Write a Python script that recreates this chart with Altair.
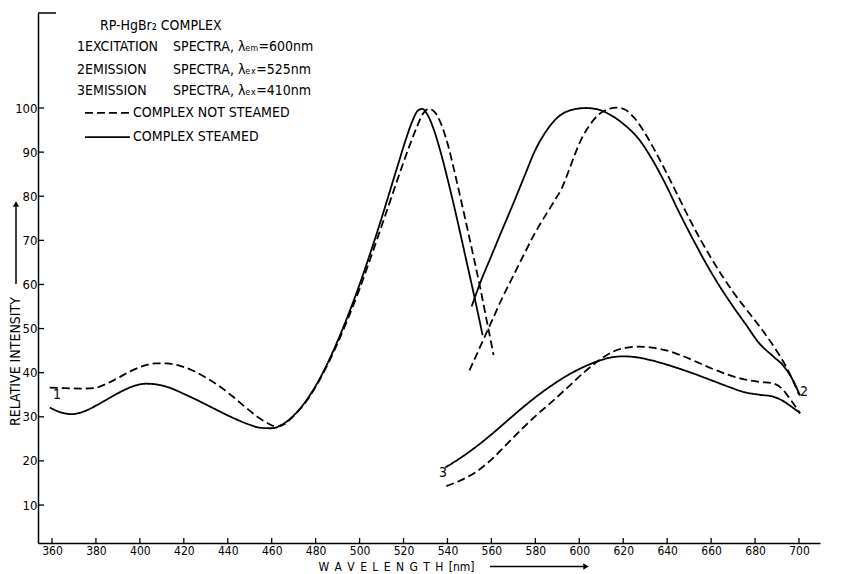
import altair as alt
import pandas as pd

# ---------------- data ----------------
x_ticks = [360, 380, 400, 420, 440, 460, 480, 500, 520, 540, 560, 580, 600, 620, 640, 660, 680, 700]
y_ticks = [10, 20, 30, 40, 50, 60, 70, 80, 90, 100]

# curve 1: excitation spectra, complex steamed (solid)
exc_s_nm = [359, 364, 369, 375, 381, 387, 393, 398, 403, 408, 414, 420, 426, 432, 438, 444, 450, 455, 460,
            465, 470, 475, 480, 485, 490, 495, 500, 505, 510, 514, 518, 521, 524, 526.5, 528.5, 531, 534,
            537, 540, 543, 546, 549, 552, 556]
exc_s_val = [32.1, 31.0, 30.6, 31.3, 32.8, 34.5, 36.1, 37.1, 37.5, 37.3, 36.5, 35.2, 33.8, 32.3, 30.8, 29.4,
             28.2, 27.5, 27.4, 28.3, 30.3, 33.2, 37.0, 41.7, 47.2, 53.3, 60.0, 67.3, 75.0, 81.5, 88.0, 92.8,
             97.0, 99.4, 99.8, 98.4, 94.8, 89.8, 84.0, 77.8, 71.2, 64.5, 57.8, 48.5]
# curve 1: excitation spectra, complex not steamed (dashed)
exc_d_nm = [359, 366, 373, 379, 384, 390, 396, 402, 407, 412, 418, 424, 430, 436, 442, 448, 453, 458, 462,
            466, 470, 475, 480, 485, 490, 495, 500, 505, 510, 515, 519, 523, 526, 529, 531.5, 534, 537, 540,
            543, 546, 549, 552, 555, 558, 561]
exc_d_val = [36.6, 36.5, 36.4, 36.5, 37.3, 38.8, 40.4, 41.6, 42.1, 42.1, 41.6, 40.5, 38.9, 37.0, 34.7, 32.2,
             30.2, 28.6, 27.8, 28.4, 30.2, 33.0, 36.8, 41.4, 46.7, 52.6, 59.0, 66.0, 73.2, 80.5, 86.3, 91.8,
             95.6, 98.8, 99.8, 99.2, 96.5, 92.0, 86.0, 79.5, 72.8, 66.0, 59.0, 51.5, 44.0]

# curve 2: emission spectra (lambda ex = 525 nm)
em2_s_nm = [551, 555, 560, 565, 570, 575, 580, 585, 590, 596, 603, 609, 615, 621, 627, 633, 639, 645, 652,
            658, 664, 670, 676, 682, 688, 693, 697, 700.5]
em2_s_val = [55.0, 60.5, 66.5, 72.5, 78.4, 84.5, 90.5, 94.8, 97.8, 99.5, 100.0, 99.6, 98.2, 96.0, 93.0, 88.5,
             83.0, 76.8, 70.0, 64.5, 59.5, 55.0, 50.8, 46.6, 43.8, 41.5, 38.5, 34.8]
em2_d_nm = [550, 555, 560, 565, 570, 575, 580, 585, 589, 592, 595, 598, 601, 605, 609, 613, 617, 621, 625,
            630, 635, 640, 645, 650, 655, 660, 665, 670, 675, 680, 685, 690, 694, 697, 700]
em2_d_val = [40.5, 46.0, 51.5, 57.0, 62.0, 67.0, 71.8, 76.0, 79.2, 81.8, 85.5, 89.5, 93.0, 96.3, 98.6, 99.7,
             100.1, 99.6, 97.8, 94.2, 89.8, 85.0, 80.0, 75.0, 70.3, 66.0, 62.0, 58.3, 55.0, 51.8, 48.5, 44.8,
             41.5, 38.5, 35.0]

# curve 3: emission spectra (lambda ex = 410 nm)
em3_s_nm = [539, 546, 553, 560, 567, 574, 581, 588, 595, 602, 609, 615, 620, 626, 632, 638, 645, 652, 660,
            668, 675, 682, 688, 692, 696, 700.5]
em3_s_val = [18.5, 20.7, 23.2, 26.0, 29.0, 32.0, 34.8, 37.3, 39.5, 41.3, 42.7, 43.5, 43.7, 43.5, 42.9, 42.1,
             41.0, 39.8, 38.3, 36.8, 35.6, 35.0, 34.6, 33.8, 32.5, 30.8]
em3_d_nm = [539.5, 546, 553, 560, 567, 574, 581, 588, 595, 602, 609, 615, 621, 627, 633, 640, 647, 654, 661,
            668, 675, 682, 688, 692, 696, 700.5]
em3_d_val = [14.3, 15.6, 17.5, 20.3, 23.8, 27.3, 30.6, 33.6, 36.8, 40.0, 42.8, 44.7, 45.6, 45.9, 45.7, 45.0,
             43.8, 42.3, 40.8, 39.5, 38.5, 37.9, 37.6, 36.5, 34.0, 30.8]

# annotation block (two columns so that "SPECTRA" lines up as in the original)
ann_text = ["RP-HgBr\u2082 COMPLEX",
            "1EXCITATION", "SPECTRA, \u03bb\u2091\u2098=600nm",
            "2EMISSION", "SPECTRA, \u03bb\u2091\u2093=525nm",
            "3EMISSION", "SPECTRA, \u03bb\u2091\u2093=410nm",
            "COMPLEX NOT STEAMED",
            "COMPLEX STEAMED"]
ann_nm = [381.8, 371.4, 415.1, 371.4, 415.1, 371.4, 415.1, 396.9, 396.9]
ann_val = [118.6, 113.8, 113.8, 108.6, 108.6, 103.9, 103.9, 98.9, 93.4]

key_style = ["dashed", "solid"]
key_nm = [375.0, 375.0]
key_nm2 = [395.5, 395.5]
key_val = [98.9, 93.4]

curve_label = ["1", "2", "3"]
curve_label_nm = [362.3, 702.3, 538.0]
curve_label_val = [34.9, 35.6, 17.3]

# ---------------- build ----------------
def frame(nm, val, curve, style):
    return pd.DataFrame({"nm": nm, "val": val, "curve": curve, "style": style})

df = pd.concat([
    frame(exc_s_nm, exc_s_val, "1s", "solid"),
    frame(exc_d_nm, exc_d_val, "1d", "dashed"),
    frame(em2_s_nm, em2_s_val, "2s", "solid"),
    frame(em2_d_nm, em2_d_val, "2d", "dashed"),
    frame(em3_s_nm, em3_s_val, "3s", "solid"),
    frame(em3_d_nm, em3_d_val, "3d", "dashed"),
], ignore_index=True)

W, H = 782, 530
FONT = "DejaVu Sans Condensed"
xs = alt.Scale(domain=[353.63, 709.56], nice=False, zero=False)
ys = alt.Scale(domain=[1.39, 121.54], nice=False, zero=False)
dash_scale = alt.Scale(domain=["solid", "dashed"], range=[[1, 0], [8, 4]])

x_axis = alt.Axis(values=x_ticks, ticks=False, grid=False, format="d", labelFont=FONT, labelFontSize=12,
                  labelColor="black", labelPadding=2, domainColor="black", domainWidth=1.5,
                  title="W\u2002A\u2002V\u2002E\u2002L\u2002E\u2002N\u2002G\u2002T\u2002H\u2002[nm]",
                  titleFont=FONT, titleFontSize=12, titleFontWeight="normal", titleColor="black",
                  titleX=358, titleY=23.5, titleAlign="center", titleBaseline="middle")
y_axis = alt.Axis(values=y_ticks, ticks=False, grid=False, format="d", labelFont=FONT, labelFontSize=13,
                  labelColor="black", labelPadding=1, domainColor="black", domainWidth=1.5,
                  title="RELATIVE INTENSITY", titleFont=FONT, titleFontSize=14, titleFontWeight="normal",
                  titleColor="black", titleAngle=270, titleX=-23, titleY=348, titleAlign="center",
                  titleBaseline="middle")

lines = alt.Chart(df).mark_line(interpolate="monotone", color="black", strokeWidth=1.8).encode(
    x=alt.X("nm:Q", scale=xs, axis=x_axis),
    y=alt.Y("val:Q", scale=ys, axis=y_axis),
    detail="curve:N",
    strokeDash=alt.StrokeDash("style:N", scale=dash_scale, legend=None),
)

xt = alt.Chart(pd.DataFrame({"t": x_ticks})).mark_rule(color="black", strokeWidth=1.3).encode(
    x=alt.X("t:Q", scale=xs), y=alt.value(H), y2=alt.value(H - 5))
yt = alt.Chart(pd.DataFrame({"t": y_ticks})).mark_rule(color="black", strokeWidth=1.3).encode(
    y=alt.Y("t:Q", scale=ys), x=alt.value(0), x2=alt.value(6))

ann = alt.Chart(pd.DataFrame({"text": ann_text, "nm": ann_nm, "val": ann_val})).mark_text(
    align="left", baseline="middle", font=FONT, fontSize=14, color="black").encode(
    x=alt.X("nm:Q", scale=xs), y=alt.Y("val:Q", scale=ys), text="text:N")

key = alt.Chart(pd.DataFrame({"style": key_style, "nm": key_nm, "nm2": key_nm2, "val": key_val})).mark_rule(
    color="black", strokeWidth=1.8).encode(
    x=alt.X("nm:Q", scale=xs), x2="nm2:Q", y=alt.Y("val:Q", scale=ys),
    strokeDash=alt.StrokeDash("style:N", scale=dash_scale, legend=None))

labels = alt.Chart(pd.DataFrame({"text": curve_label, "nm": curve_label_nm, "val": curve_label_val})).mark_text(
    align="center", baseline="middle", font=FONT, fontSize=14, color="black").encode(
    x=alt.X("nm:Q", scale=xs), y=alt.Y("val:Q", scale=ys), text="text:N")

one = pd.DataFrame({"a": [0]})
x_arrow = alt.Chart(one).mark_rule(color="black", strokeWidth=1.5).encode(
    x=alt.value(452), x2=alt.value(546), y=alt.value(553.5))
x_head = alt.Chart(one).mark_point(shape="triangle-right", filled=True, color="black", size=40, opacity=1).encode(
    x=alt.value(548), y=alt.value(553.5))
y_arrow = alt.Chart(one).mark_rule(color="black", strokeWidth=1.5).encode(
    x=alt.value(-22), y=alt.value(271), y2=alt.value(194))
y_head = alt.Chart(one).mark_point(shape="triangle-up", filled=True, color="black", size=40, opacity=1).encode(
    x=alt.value(-22), y=alt.value(191))
cap = alt.Chart(one).mark_rule(color="black", strokeWidth=1.5).encode(
    x=alt.value(0), x2=alt.value(18), y=alt.value(0))

chart = alt.layer(lines, xt, yt, ann, key, labels, x_arrow, x_head, y_arrow, y_head, cap).properties(
    width=W, height=H,
    autosize=alt.AutoSizeParams(type="none"),
    padding={"left": 38, "top": 13, "right": 24, "bottom": 31},
    background="white",
).configure_view(stroke=None)

chart.save("out.html", embed_options={"renderer": "svg", "actions": False})
